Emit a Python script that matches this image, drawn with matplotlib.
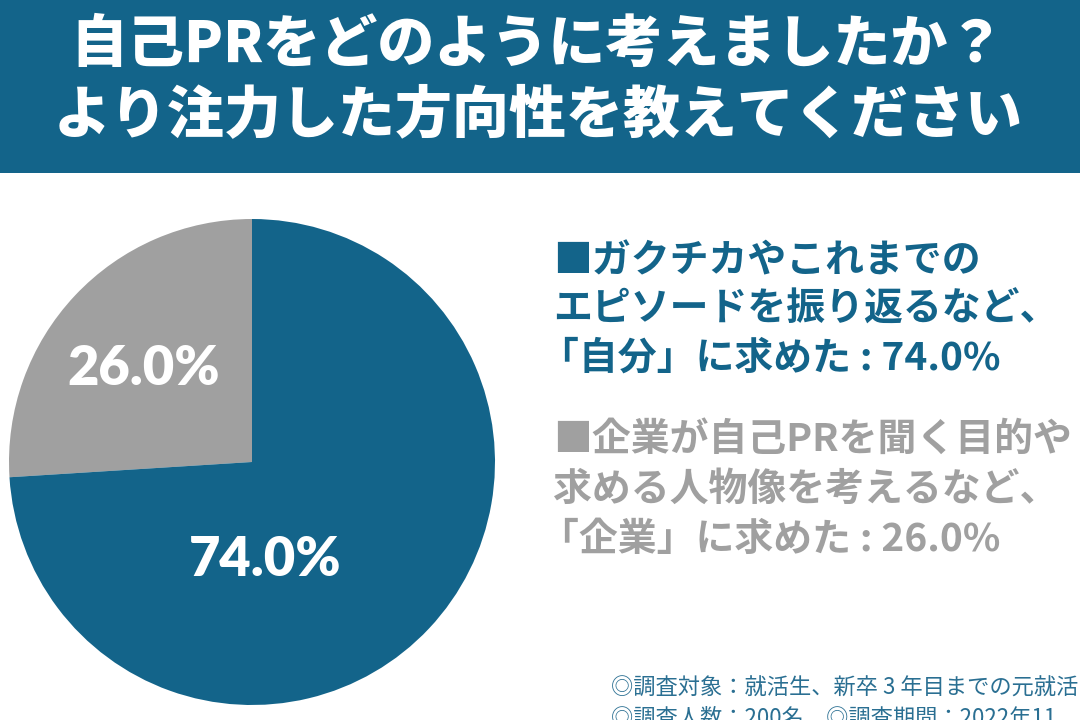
import matplotlib
matplotlib.use("Agg")
import matplotlib.pyplot as plt
from matplotlib.patches import Rectangle

plt.rcParams["font.family"] = ["Noto Sans CJK JP", "DejaVu Sans"]

# data
labels = ["企業", "自分"]
values = [26.0, 74.0]
colors = ["#a0a0a0", "#13648a"]

title_lines = ["自己PRをどのように考えましたか？", "より注力した方向性を教えてください"]
legend_blue = ["■ガクチカやこれまでの", "エピソードを振り返るなど、", "「自分」に求めた : 74.0%"]
legend_gray = ["■企業が自己PRを聞く目的や", "求める人物像を考えるなど、", "「企業」に求めた : 26.0%"]
notes = ["◎調査対象：就活生、新卒 3 年目までの元就活",
         "◎調査人数：200名　◎調査期間：2022年11"]

W, H = 1080, 720
fig = plt.figure(figsize=(W / 100, H / 100), dpi=100)
fig.patch.set_facecolor("white")


def px(x, y):
    return x / W, 1 - y / H


# header band
fig.patches.append(Rectangle((0, 1 - 173 / H), 1, 173 / H, transform=fig.transFigure,
                             facecolor="#13648a", edgecolor="none", zorder=0))
for txt, yc in zip(title_lines, [45, 117]):
    fig.text(*px(538, yc), txt, ha="center", va="center", color="white",
             fontsize=41, fontweight="heavy")

# pie
cx, cy, r = 252, 462, 243
ax = fig.add_axes([(cx - r) / W, (H - cy - r) / H, 2 * r / W, 2 * r / H])
ax.pie(values, colors=colors, startangle=90, counterclock=True, radius=1,
       wedgeprops=dict(linewidth=0))
ax.set_xlim(-1, 1)
ax.set_ylim(-1, 1)
ax.set_aspect("equal")
ax.axis("off")
label_pos = [(-0.447, 0.383), (0.053, -0.403)]
for v, (lx, ly) in zip(values, label_pos):
    ax.text(lx, ly, f"{v:.1f}%", ha="center", va="center", color="white",
            fontsize=39, fontweight="heavy", family=["Lato", "DejaVu Sans"])

# legend text (the bracket line starts further left, 「 has a wide left bearing)
for lines, ys, col in [(legend_blue, [261, 309, 358], "#13648a"),
                       (legend_gray, [439, 489, 539], "#a0a0a0")]:
    for i, (txt, yc) in enumerate(zip(lines, ys)):
        x0 = 540 if i == 2 else 553
        fig.text(*px(x0, yc), txt, ha="left", va="center", color=col,
                 fontsize=28, fontweight="bold")

# footnotes
for txt, yc in zip(notes, [688, 718]):
    fig.text(*px(611, yc), txt, ha="left", va="center", color="#2a6f92", fontsize=16)

fig.savefig("out.png", dpi=100)
